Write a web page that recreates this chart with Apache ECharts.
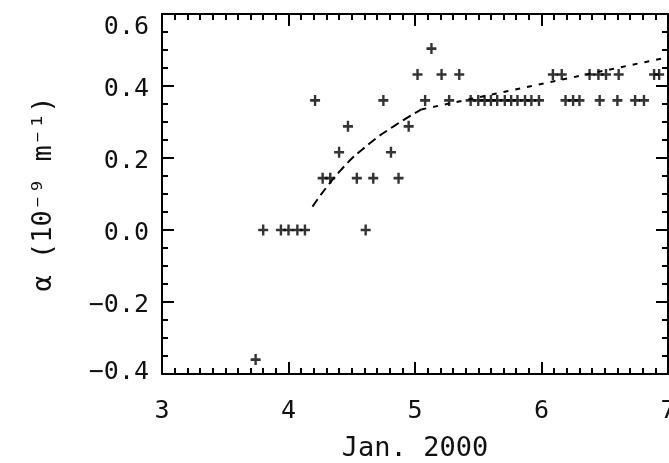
<!DOCTYPE html>
<html>
<head>
<meta charset="utf-8">
<script src="https://cdn.jsdelivr.net/npm/echarts@6/dist/echarts.min.js"></script>
<style>
  html, body { margin: 0; padding: 0; background: #fff; }
  #chart { width: 669px; height: 463px; }
</style>
</head>
<body>
<div id="chart"></div>
<script>
// measured points: day of Jan. 2000 and alpha (10^-9 m^-1)
const days = [
  3.74,
  3.80, 3.94, 4.00, 4.07, 4.13, 4.61,
  4.27, 4.33, 4.54, 4.67, 4.87,
  4.40, 4.81,
  4.47, 4.95,
  4.21, 4.75, 5.08, 5.27, 5.44, 5.50, 5.55, 5.60, 5.65, 5.71, 5.76, 5.81, 5.87, 5.92, 5.98,
  6.19, 6.25, 6.30, 6.46, 6.60, 6.74, 6.81,
  5.02, 5.21, 5.35, 6.09, 6.16, 6.38, 6.45, 6.51, 6.61, 6.89, 6.93,
  5.13
];
const alpha = [
  -0.36,
  0, 0, 0, 0, 0, 0,
  0.144, 0.144, 0.144, 0.144, 0.144,
  0.216, 0.216,
  0.288, 0.288,
  0.36, 0.36, 0.36, 0.36, 0.36, 0.36, 0.36, 0.36, 0.36, 0.36, 0.36, 0.36, 0.36, 0.36, 0.36,
  0.36, 0.36, 0.36, 0.36, 0.36, 0.36, 0.36,
  0.432, 0.432, 0.432, 0.432, 0.432, 0.432, 0.432, 0.432, 0.432, 0.432, 0.432,
  0.504
];

// fit curves
const fitRiseX = [4.19, 4.41, 4.64, 4.84, 5.05];
const fitRiseY = [0.065, 0.165, 0.24, 0.29, 0.335];
const fitSlowX = [5.05, 7.0];
const fitSlowY = [0.335, 0.48];

const xTicks = { min: 3, max: 7, step: 1 };
const yTicks = { min: -0.4, max: 0.6, step: 0.2 };

const FONT = 'DejaVu Sans Mono';
const FS = 25;
const plus = 'path://M3.8,0h2.4v3.8h3.8v2.4h-3.8v3.8h-2.4v-3.8h-3.8v-2.4h3.8z';

const chart = echarts.init(document.getElementById('chart'));

const frameLine = { show: true, onZero: false, lineStyle: { color: '#000', width: 2 } };
const tick = { show: true, inside: true, length: 12, lineStyle: { color: '#000', width: 2 } };
const minorX = { show: true, splitNumber: 10, length: 6, lineStyle: { color: '#000', width: 2 } };
const minorY = { show: true, splitNumber: 4, length: 6, lineStyle: { color: '#000', width: 2 } };

// IDL-like placement: end labels pulled inside the frame
function yLabel(v) {
  const s = (v < 0 ? '\u2212' : '') + Math.abs(v).toFixed(1);
  if (Math.abs(v - yTicks.max) < 1e-9) return '{top|' + s + '}';
  if (Math.abs(v - yTicks.min) < 1e-9) return '{bot|' + s + '}';
  return '{mid|' + s + '}';
}

const labelStyle = { fontFamily: FONT, fontSize: FS, color: '#111' };

const option = {
  backgroundColor: '#fff',
  animation: false,
  grid: { left: 162, right: 1, top: 14, bottom: 89, outerBoundsMode: 'none' },
  xAxis: [
    {
      type: 'value', position: 'bottom',
      min: xTicks.min, max: xTicks.max, interval: xTicks.step,
      axisLine: frameLine, axisTick: tick, minorTick: minorX,
      splitLine: { show: false },
      axisLabel: { margin: 25, color: '#111', fontFamily: FONT, fontSize: FS },
      name: 'Jan. 2000', nameLocation: 'middle', nameGap: 61,
      nameTextStyle: { color: '#111', fontFamily: FONT, fontSize: 27 }
    },
    {
      type: 'value', position: 'top',
      min: xTicks.min, max: xTicks.max, interval: xTicks.step,
      axisLine: frameLine, axisTick: tick, minorTick: minorX,
      splitLine: { show: false }, axisLabel: { show: false }
    }
  ],
  yAxis: [
    {
      type: 'value', position: 'left',
      min: yTicks.min, max: yTicks.max, interval: yTicks.step,
      axisLine: frameLine, axisTick: tick, minorTick: minorY,
      splitLine: { show: false },
      axisLabel: {
        margin: 13, color: '#111', fontFamily: FONT, fontSize: FS,
        formatter: yLabel,
        rich: {
          top: Object.assign({ padding: [26, 0, 0, 0] }, labelStyle),
          mid: Object.assign({ padding: [6, 0, 0, 0] }, labelStyle),
          bot: Object.assign({ padding: [0, 0, 4, 0] }, labelStyle)
        }
      },
      name: '\u03b1 (10\u207b\u2079 m\u207b\u00b9)', nameLocation: 'middle', nameGap: 105, nameRotate: 90,
      nameTextStyle: { color: '#111', fontFamily: FONT, fontSize: 27 }
    },
    {
      type: 'value', position: 'right',
      min: yTicks.min, max: yTicks.max, interval: yTicks.step,
      axisLine: frameLine, axisTick: tick, minorTick: minorY,
      splitLine: { show: false }, axisLabel: { show: false }
    }
  ],
  series: [
    {
      type: 'scatter',
      data: days.map((d, i) => [d, alpha[i]]),
      symbol: plus, symbolSize: [10, 11],
      itemStyle: { color: '#000' }
    },
    {
      type: 'line',
      data: fitRiseX.map((d, i) => [d, fitRiseY[i]]),
      showSymbol: false, smooth: true,
      lineStyle: { color: '#000', width: 2, type: [9, 5] }
    },
    {
      type: 'line',
      data: fitSlowX.map((d, i) => [d, fitSlowY[i]]),
      showSymbol: false,
      lineStyle: { color: '#000', width: 2, type: [5, 7] }
    }
  ]
};

chart.setOption(option);
</script>
</body>
</html>
